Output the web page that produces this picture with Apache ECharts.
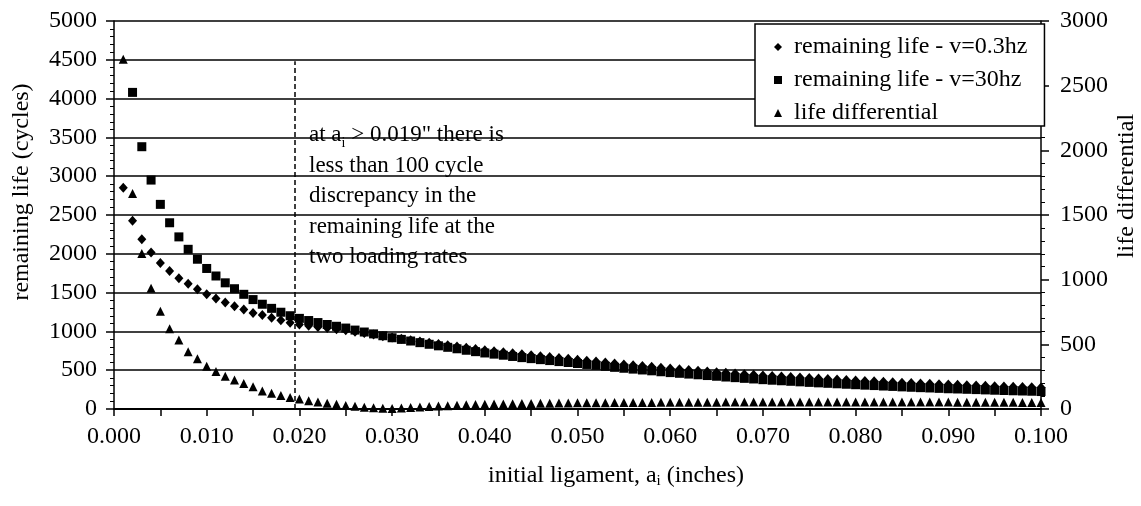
<!DOCTYPE html>
<html>
<head>
<meta charset="utf-8">
<script src="https://cdn.jsdelivr.net/npm/echarts@6.0.0/dist/echarts.min.js"></script>
<style>
  html, body { margin: 0; padding: 0; background: #fff; }
  #chart { width: 1141px; height: 506px; }
</style>
</head>
<body>
<div id="chart"></div>
<script>
// initial ligament (inches)
var ligament = [
    0.001, 0.002, 0.003, 0.004, 0.005, 0.006, 0.007, 0.008, 0.009, 0.010,
    0.011, 0.012, 0.013, 0.014, 0.015, 0.016, 0.017, 0.018, 0.019, 0.020,
    0.021, 0.022, 0.023, 0.024, 0.025, 0.026, 0.027, 0.028, 0.029, 0.030,
    0.031, 0.032, 0.033, 0.034, 0.035, 0.036, 0.037, 0.038, 0.039, 0.040,
    0.041, 0.042, 0.043, 0.044, 0.045, 0.046, 0.047, 0.048, 0.049, 0.050,
    0.051, 0.052, 0.053, 0.054, 0.055, 0.056, 0.057, 0.058, 0.059, 0.060,
    0.061, 0.062, 0.063, 0.064, 0.065, 0.066, 0.067, 0.068, 0.069, 0.070,
    0.071, 0.072, 0.073, 0.074, 0.075, 0.076, 0.077, 0.078, 0.079, 0.080,
    0.081, 0.082, 0.083, 0.084, 0.085, 0.086, 0.087, 0.088, 0.089, 0.090,
    0.091, 0.092, 0.093, 0.094, 0.095, 0.096, 0.097, 0.098, 0.099, 0.100
];

// remaining life, v=0.3hz (cycles)
var life03 = [
    2850, 2425, 2186, 2016, 1882, 1779, 1684, 1615, 1542, 1480,
    1425, 1372, 1325, 1281, 1238, 1210, 1176, 1143, 1113, 1090,
    1073, 1058, 1044, 1029, 1014, 996, 978, 959, 939, 922,
    904, 887, 870, 853, 837, 821, 805, 789, 773, 758,
    745, 732, 718, 704, 692, 680, 669, 657, 646, 634,
    622, 611, 599, 587, 575, 565, 554, 543, 532, 521,
    512, 503, 494, 484, 475, 466, 458, 449, 441, 432,
    425, 418, 412, 405, 398, 392, 386, 380, 374, 368,
    362, 357, 351, 346, 339, 334, 329, 325, 320, 315,
    311, 307, 303, 299, 294, 290, 287, 283, 280, 276
];

// remaining life, v=30hz (cycles) - first point is above the chart
var life30 = [
    null, 4080, 3380, 2950, 2637, 2400, 2218, 2058, 1930, 1811,
    1714, 1626, 1550, 1478, 1410, 1350, 1297, 1247, 1202, 1168,
    1140, 1114, 1089, 1066, 1043, 1017, 992, 968, 944, 918,
    897, 876, 855, 834, 814, 795, 776, 757, 739, 722,
    707, 693, 677, 662, 649, 636, 624, 611, 599, 586,
    574, 562, 550, 537, 525, 514, 503, 492, 480, 469,
    460, 450, 441, 431, 422, 412, 404, 395, 387, 378,
    371, 364, 357, 350, 343, 337, 331, 325, 319, 313,
    307, 302, 296, 291, 285, 280, 275, 271, 266, 261,
    258, 254, 250, 246, 242, 238, 235, 232, 229, 225
];

// life differential (right axis)
var lifeDiff = [
    2705, 1667, 1202, 934, 755, 621, 534, 443, 388, 331,
    289, 254, 225, 197, 172, 140, 121, 104, 89, 78,
    64, 54, 44, 36, 28, 21, 14, 9, 5, 4,
    7, 11, 15, 19, 23, 26, 29, 32, 34, 36,
    38, 39, 41, 42, 43, 44, 45, 46, 47, 48,
    48, 49, 49, 50, 50, 51, 51, 51, 52, 52,
    52, 53, 53, 53, 53, 54, 54, 54, 54, 54,
    54, 54, 55, 55, 55, 55, 55, 55, 55, 55,
    55, 55, 55, 55, 54, 54, 54, 54, 54, 54,
    53, 53, 53, 53, 52, 52, 52, 51, 51, 51
];

var seriesNames = ['remaining life - v=0.3hz', 'remaining life - v=30hz', 'life differential'];
var cutoff = 0.0195;
var cutoffTop = 4480;

var FONT = '"Liberation Serif", "Times New Roman", serif';

function pairs(ys) {
    return ligament.map(function (x, i) {
        return [x, ys[i]];
    });
}

function plain(v) {
    return String(v);
}

var myChart = echarts.init(document.getElementById('chart'), null, { renderer: 'canvas' });

var option = {
    animation: false,
    backgroundColor: '#fff',
    textStyle: { fontFamily: FONT, color: '#000' },
    grid: {
        left: 114,
        right: 100,
        top: 21,
        bottom: 97,
        outerBoundsMode: 'none'
    },
    legend: {
        orient: 'vertical',
        left: 755,
        top: 24,
        padding: [11, 17, 1, 19],
        itemGap: 9,
        itemWidth: 8,
        itemHeight: 8,
        borderColor: '#000',
        borderWidth: 1.5,
        borderRadius: 0,
        backgroundColor: '#fff',
        itemStyle: { opacity: 1 },
        textStyle: {
            fontFamily: FONT,
            fontSize: 24,
            color: '#000',
            lineHeight: 20,
            padding: [0, 0, 0, 7]
        },
        data: [
            { name: seriesNames[0], icon: 'diamond' },
            { name: seriesNames[1], icon: 'rect' },
            { name: seriesNames[2], icon: 'triangle' }
        ]
    },
    xAxis: {
        type: 'value',
        min: 0,
        max: 0.1,
        interval: 0.01,
        axisLine: { show: true, lineStyle: { color: '#000', width: 2 } },
        axisTick: { show: true, length: 7, lineStyle: { color: '#000', width: 1.5 } },
        minorTick: { show: true, splitNumber: 2, length: 7, lineStyle: { color: '#000', width: 1.5 } },
        splitLine: { show: false },
        axisLabel: {
            margin: 16,
            fontFamily: FONT,
            fontSize: 24,
            color: '#000',
            formatter: function (v) { return v.toFixed(3); }
        }
    },
    yAxis: [
        {
            type: 'value',
            min: 0,
            max: 5000,
            interval: 500,
            axisLine: { show: true, lineStyle: { color: '#000', width: 1.5 } },
            axisTick: { show: true, length: 8, lineStyle: { color: '#000', width: 1.5 } },
            minorTick: { show: true, splitNumber: 5, length: 4, lineStyle: { color: '#000', width: 1 } },
            splitLine: { show: true, lineStyle: { color: '#000', width: 1.5 } },
            axisLabel: { margin: 17, fontFamily: FONT, fontSize: 24, color: '#000', formatter: plain }
        },
        {
            type: 'value',
            min: 0,
            max: 3000,
            interval: 500,
            position: 'right',
            axisLine: { show: true, lineStyle: { color: '#000', width: 1.5 } },
            axisTick: { show: true, length: 8, lineStyle: { color: '#000', width: 1.5 } },
            minorTick: { show: true, splitNumber: 5, length: 4, lineStyle: { color: '#000', width: 1 } },
            splitLine: { show: false },
            axisLabel: { margin: 19, fontFamily: FONT, fontSize: 24, color: '#000', formatter: plain }
        }
    ],
    series: [
        {
            name: seriesNames[0],
            type: 'scatter',
            symbol: 'diamond',
            symbolSize: [9, 10],
            itemStyle: { color: '#000', opacity: 1 },
            data: pairs(life03),
            markLine: {
                silent: true,
                symbol: ['none', 'none'],
                label: { show: false },
                lineStyle: { color: '#000', type: [5, 3], width: 1.5 },
                data: [
                    [{ coord: [cutoff, 0] }, { coord: [cutoff, cutoffTop] }]
                ]
            }
        },
        {
            name: seriesNames[1],
            type: 'scatter',
            symbol: 'rect',
            symbolSize: 9,
            itemStyle: { color: '#000', opacity: 1 },
            data: pairs(life30)
        },
        {
            name: seriesNames[2],
            type: 'scatter',
            yAxisIndex: 1,
            symbol: 'triangle',
            symbolSize: [9, 9],
            itemStyle: { color: '#000', opacity: 1 },
            data: pairs(lifeDiff)
        }
    ],
    graphic: [
        {
            type: 'text',
            x: 309,
            y: 120,
            z: 100,
            style: {
                text: 'at a{sub|i} > 0.019" there is\nless than 100 cycle\ndiscrepancy in the\nremaining life at the\ntwo loading rates',
                fontFamily: FONT,
                fontSize: 23,
                lineHeight: 30.5,
                fill: '#000',
                rich: {
                    sub: { fontFamily: FONT, fontSize: 14, lineHeight: 12, verticalAlign: 'bottom' }
                }
            }
        },
        {
            type: 'text',
            x: 22,
            y: 192,
            rotation: Math.PI / 2,
            style: {
                text: 'remaining life (cycles)',
                fontFamily: FONT,
                fontSize: 24,
                fill: '#000',
                align: 'center',
                verticalAlign: 'middle'
            }
        },
        {
            type: 'text',
            x: 1127,
            y: 186,
            rotation: Math.PI / 2,
            style: {
                text: 'life differential',
                fontFamily: FONT,
                fontSize: 24,
                fill: '#000',
                align: 'center',
                verticalAlign: 'middle'
            }
        },
        {
            type: 'text',
            x: 616,
            y: 476,
            style: {
                text: 'initial ligament, a{sub|i} (inches)',
                fontFamily: FONT,
                fontSize: 24,
                lineHeight: 26,
                fill: '#000',
                align: 'center',
                verticalAlign: 'middle',
                rich: {
                    sub: { fontFamily: FONT, fontSize: 15, lineHeight: 12, verticalAlign: 'bottom' }
                }
            }
        }
    ]
};

myChart.setOption(option);
window.onresize = function () {
    myChart.resize();
};
</script>
</body>
</html>
